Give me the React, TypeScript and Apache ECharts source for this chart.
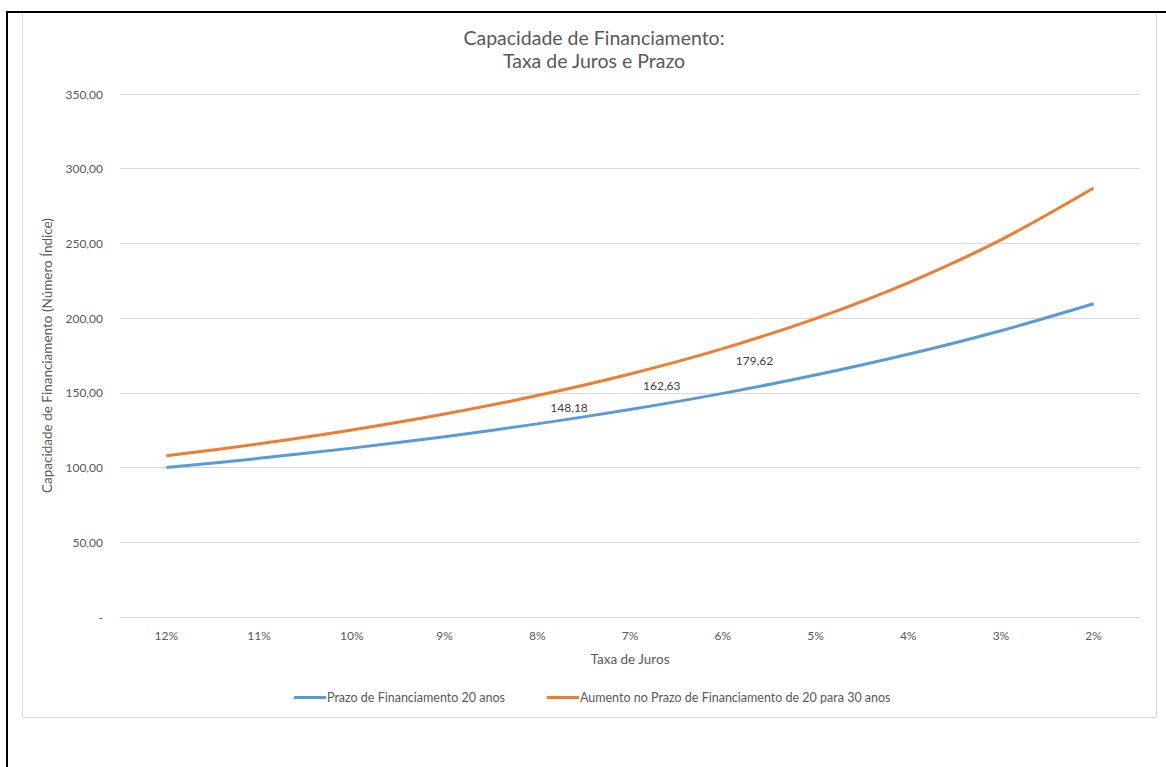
import React, { useEffect, useRef } from "react";
import * as echarts from "echarts";

const categories = ["12%", "11%", "10%", "9%", "8%", "7%", "6%", "5%", "4%", "3%", "2%"];
const prazo20 = [100.0, 106.17, 113.02, 120.67, 129.24, 138.85, 149.67, 161.91, 175.79, 191.58, 209.62];
const prazo30 = [107.84, 115.9, 125.15, 135.81, 148.18, 162.63, 179.62, 199.72, 223.67, 252.4, 287.11];
const labeledCategories = ["8%", "7%", "6%"];
const yTicks = { min: 0, max: 350, interval: 50 };

const titleLines = ["Capacidade de Financiamento:", "Taxa de Juros e Prazo"];
const seriesNames = ["Prazo de Financiamento 20 anos", "Aumento no Prazo de Financiamento de 20 para 30 anos"];
const xAxisName = "Taxa de Juros";
const yAxisName = "Capacidade de Financiamento (Número Índice)";

const FONT = "Lato, 'Open Sans', sans-serif";
const TXT = "#595959";

function fmt(v: number): string {
  if (v === 0) return "-";
  return v.toFixed(2).replace(".", ",");
}

export default function App() {
  const ref = useRef<HTMLDivElement>(null);
  useEffect(() => {
    if (!ref.current) return;
    const chart = echarts.init(ref.current, undefined, { renderer: "svg" });
    const orangeData = prazo30.map((v, i) =>
      labeledCategories.includes(categories[i])
        ? {
            value: v,
            label: {
              show: true,
              position: "right",
              distance: 13,
              offset: [0, 12],
              formatter: (p: any) => fmt(p.value),
              color: "#404040",
              fontSize: 12,
              fontFamily: FONT,
            },
          }
        : v
    );
    chart.setOption({
      animation: false,
      backgroundColor: "#ffffff",
      textStyle: { fontFamily: FONT },
      title: {
        text: titleLines.join("\n"),
        left: 589,
        textAlign: "center",
        top: 21,
        textStyle: { fontFamily: FONT, fontSize: 19.5, fontWeight: "normal", color: TXT, lineHeight: 23 },
      },
      graphic: [
        {
          type: "rect",
          shape: { x: 22.5, y: 12.5, width: 1134, height: 705 },
          style: { fill: "none", stroke: "#d9d9d9", lineWidth: 1 },
          silent: true,
          z: -1,
        },
        {
          type: "line",
          shape: { x1: 7, y1: 12, x2: 1166, y2: 12 },
          style: { stroke: "#000", lineWidth: 2 },
          silent: true,
        },
        {
          type: "line",
          shape: { x1: 7, y1: 11, x2: 7, y2: 767 },
          style: { stroke: "#000", lineWidth: 2 },
          silent: true,
        },
      ],
      legend: {
        top: 686,
        left: 289,
        itemWidth: 32,
        itemHeight: 3,
        itemGap: 42,
        icon: "rect",
        textStyle: { color: TXT, fontSize: 12.5, fontFamily: FONT, padding: [0, 0, 0, -4] },
        data: seriesNames,
      },
      grid: { left: 120, right: 26, top: 94, bottom: 150, containLabel: false },
      xAxis: {
        type: "category",
        data: categories,
        boundaryGap: true,
        name: xAxisName,
        nameLocation: "middle",
        nameGap: 35,
        nameTextStyle: { color: TXT, fontSize: 13.5, fontFamily: FONT },
        axisLine: { lineStyle: { color: "#d9d9d9" } },
        axisTick: { show: false },
        axisLabel: { color: TXT, fontSize: 12, fontFamily: FONT, margin: 12 },
      },
      yAxis: {
        type: "value",
        min: yTicks.min,
        max: yTicks.max,
        interval: yTicks.interval,
        name: yAxisName,
        nameLocation: "middle",
        nameGap: 66,
        nameTextStyle: { color: TXT, fontSize: 13.5, fontFamily: FONT },
        axisLine: { show: false },
        axisTick: { show: false },
        splitLine: { lineStyle: { color: "#d9d9d9" } },
        axisLabel: { color: TXT, fontSize: 12, fontFamily: FONT, margin: 17, formatter: fmt },
      },
      series: [
        {
          name: seriesNames[0],
          type: "line",
          data: prazo20,
          smooth: 0.3,
          symbol: "none",
          lineStyle: { color: "#5b9bd5", width: 3 },
          itemStyle: { color: "#5b9bd5" },
        },
        {
          name: seriesNames[1],
          type: "line",
          data: orangeData,
          smooth: 0.3,
          symbol: "circle",
          symbolSize: 0,
          showSymbol: true,
          lineStyle: { color: "#ed7d31", width: 3 },
          itemStyle: { color: "#ed7d31" },
        },
      ],
    });
    return () => chart.dispose();
  }, []);
  return (
    <div
      ref={ref}
      style={{ position: "fixed", left: 0, top: 0, width: 1166, height: 767, background: "#fff" }}
    />
  );
}
